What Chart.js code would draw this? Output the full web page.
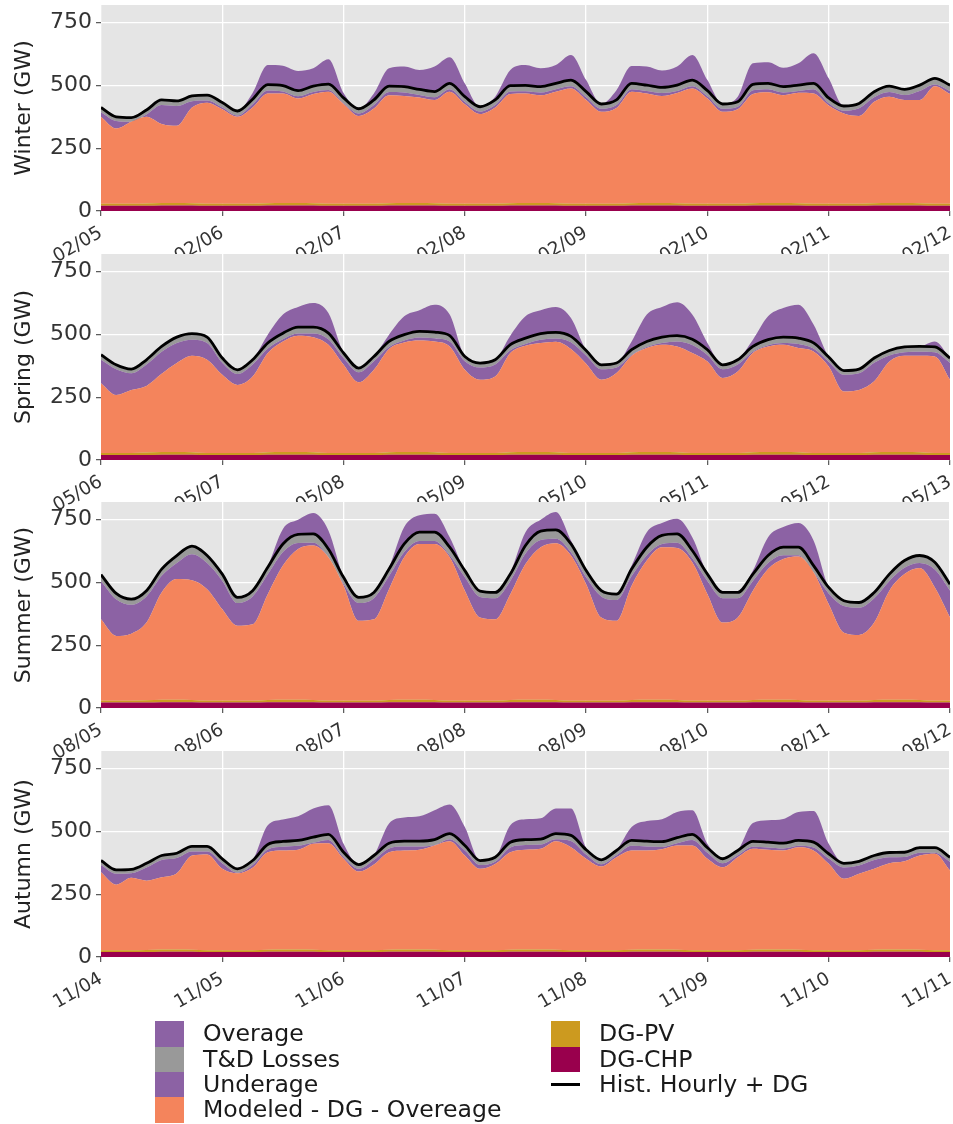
<!DOCTYPE html>
<html><head><meta charset="utf-8">
<script src="https://cdn.jsdelivr.net/npm/chart.js@4.4.1/dist/chart.umd.min.js"></script>
<style>
html,body{margin:0;padding:0;background:#fff;width:953px;height:1124px;overflow:hidden;}
canvas{position:absolute;left:0;}
#legend{position:absolute;left:0;top:0;width:953px;height:1124px;font-family:'DejaVu Sans';font-size:23.6px;color:#1a1a1a;pointer-events:none;z-index:10;}
.item{position:absolute;height:25px;line-height:25px;white-space:nowrap;}
.sw{position:absolute;left:0;top:0;width:29px;height:25.5px;}
.ln{position:absolute;left:0;top:11px;width:29px;height:2.5px;background:#000;}
.tx{position:absolute;left:48px;top:0;}
</style></head><body>
<canvas id="c0" width="953" height="300"></canvas>
<canvas id="c1" width="953" height="300"></canvas>
<canvas id="c2" width="953" height="300"></canvas>
<canvas id="c3" width="953" height="300"></canvas>
<div id="legend"></div>
<script>
// ---------- DATA ----------
const hours = [0,3,6,9,12,15,18,21,24,27,30,33,36,39,42,45,48,51,54,57,60,63,66,69,72,75,78,81,84,87,90,93,96,99,102,105,108,111,114,117,120,123,126,129,132,135,138,141,144,147,150,153,156,159,162,165,168];
const dayTicks = [0,24,48,72,96,120,144,168];
const yTicks = [0,250,500,750];

const winterDates = ['02/05','02/06','02/07','02/08','02/09','02/10','02/11','02/12'];
const springDates = ['05/06','05/07','05/08','05/09','05/10','05/11','05/12','05/13'];
const summerDates = ['08/05','08/06','08/07','08/08','08/09','08/10','08/11','08/12'];
const autumnDates = ['11/04','11/05','11/06','11/07','11/08','11/09','11/10','11/11'];

// Hist. Hourly + DG (black line)
const winterHist = [412,375,372,402,442,438,458,461,432,398,445,503,499,479,497,505,450,407,442,497,495,484,475,508,455,415,442,499,500,495,508,521,475,426,442,508,501,492,501,521,479,426,435,504,508,495,501,508,450,418,428,475,497,484,501,528,501];
const springHist = [419,379,362,399,452,489,503,489,406,359,399,466,505,529,529,505,426,366,412,472,499,512,509,495,412,386,399,459,485,503,508,492,436,379,386,439,472,489,495,481,439,379,399,452,479,489,485,466,410,356,362,406,436,450,452,450,406];
const summerHist = [531,456,433,467,553,607,644,607,533,440,467,560,653,691,693,633,520,440,460,553,653,700,700,640,547,465,460,533,647,704,709,653,547,467,453,553,640,687,693,627,533,460,460,533,607,640,640,567,480,427,420,460,533,587,607,580,493];
const autumnHist = [384,347,349,373,404,413,440,440,391,351,384,448,460,464,477,488,417,368,404,453,461,461,467,491,444,384,397,457,467,469,491,484,427,387,424,464,461,459,475,488,435,391,424,460,457,453,464,457,411,373,381,404,416,417,435,435,397];

// top of "Modeled - DG - Overeage" (orange) area
const winterModeled = [375,328,355,375,346,339,412,431,405,375,412,468,468,448,466,475,426,378,408,461,458,452,442,475,425,386,412,466,468,461,475,488,442,395,410,475,468,458,470,488,448,395,405,466,473,461,471,468,420,388,378,435,455,442,442,497,466];
const springModeled = [306,259,279,295,343,386,415,399,339,299,332,426,472,495,489,459,379,309,359,442,468,476,472,452,359,319,332,426,455,466,471,442,383,319,346,415,446,459,452,426,392,326,352,426,452,459,446,432,372,273,279,313,392,415,415,412,319];
const summerModeled = [353,287,296,340,460,513,509,473,393,327,333,453,567,633,647,600,487,347,353,473,600,653,653,600,467,360,353,453,573,640,656,607,493,360,347,487,587,640,637,580,453,340,360,467,553,593,603,540,413,300,291,340,467,533,557,480,360];
const autumnModeled = [337,288,315,304,317,333,404,408,351,333,355,417,424,427,451,453,391,340,368,417,424,427,444,461,404,351,370,417,427,431,461,437,391,360,397,424,424,429,444,444,391,357,397,431,427,424,437,424,371,311,331,351,373,381,404,411,344];

// top of Overage (purple above the black line)
const winterOverTop = [412,375,372,402,442,438,458,461,432,398,470,581,578,557,568,604,470,407,468,568,575,561,575,612,508,415,455,561,581,568,581,621,521,426,481,577,575,559,575,621,521,426,455,588,592,570,588,628,528,418,428,475,497,484,501,528,501];
const springOverTop = [419,379,362,399,452,489,503,489,406,359,399,499,579,609,625,585,426,366,412,499,572,596,618,579,412,386,399,495,572,596,609,565,436,379,386,472,579,609,628,579,466,379,399,479,572,605,618,539,410,356,362,406,436,450,452,472,406];
const summerOverTop = [531,456,433,467,553,607,644,607,533,440,467,565,713,749,776,707,520,440,460,560,720,767,773,680,547,465,460,540,700,749,780,667,547,467,453,567,700,736,753,680,533,460,460,547,680,720,736,667,480,427,420,460,533,587,607,580,493];
const autumnOverTop = [384,347,349,373,404,413,440,440,391,351,384,524,547,560,591,604,451,368,404,531,555,560,584,607,517,384,397,524,548,552,591,591,435,387,424,517,541,548,577,584,451,391,424,533,544,549,577,581,451,373,381,404,416,417,435,435,397];

// T&D losses (thickness of grey band)
const winterTD = [19,17,17,18,20,20,21,21,20,18,20,23,23,22,23,23,21,19,20,23,23,22,22,23,21,19,20,23,23,23,23,24,22,19,20,23,23,22,23,24,22,19,20,23,23,23,23,23,21,19,19,22,23,22,23,24,23];
const springTD = [20,18,17,19,21,23,24,23,19,17,19,22,24,25,25,24,20,17,19,22,23,24,24,23,19,18,19,22,23,24,24,23,20,18,18,21,22,23,23,23,21,18,19,21,22,23,23,22,19,17,17,19,20,21,21,21,19];
const summerTD = [26,23,22,23,27,30,32,30,27,22,23,28,32,34,35,32,26,22,23,28,32,35,35,32,27,23,23,27,32,35,35,33,27,23,23,28,32,34,35,31,27,23,23,27,30,32,32,28,24,21,21,23,27,29,30,29,25];
const autumnTD = [18,16,16,17,18,19,20,20,18,16,18,20,21,21,22,22,19,17,18,21,21,21,21,22,20,18,18,21,21,21,22,22,19,18,19,21,21,21,22,22,20,18,19,21,21,21,21,21,19,17,17,18,19,19,20,20,18];

// DG-CHP and DG-PV
const winterChp = [21,21,21,21,22,22,22,21,21,21,21,22,22,22,22,21,21,21,21,22,22,22,22,21,21,21,21,22,22,22,22,21,21,21,21,22,22,22,22,21,21,21,21,22,22,22,22,21,21,21,21,22,22,22,22,21,21];
const winterPv  = [8,8,8,9,10,10,9,8,8,8,8,9,10,10,9,8,8,8,8,9,10,10,9,8,8,8,8,9,10,10,9,8,8,8,8,9,10,10,9,8,8,8,8,9,10,10,9,8,8,8,8,9,10,10,9,8,8];
const springChp = [20,20,20,20,21,21,21,20,20,20,20,21,21,21,21,20,20,20,20,21,21,21,21,20,20,20,20,21,21,21,21,20,20,20,20,21,21,21,21,20,20,20,20,21,21,21,21,20,20,20,20,21,21,21,21,20,20];
const springPv  = [8,8,8,10,11,11,10,8,8,8,8,10,11,11,10,8,8,8,8,10,11,11,10,8,8,8,8,10,11,11,10,8,8,8,8,10,11,11,10,8,8,8,8,10,11,11,10,8,8,8,8,10,11,11,10,8,8];
const summerChp = [22,22,22,22,23,23,23,22,22,22,22,23,23,23,23,22,22,22,22,23,23,23,23,22,22,22,22,23,23,23,23,22,22,22,22,23,23,23,23,22,22,22,22,23,23,23,23,22,22,22,22,23,23,23,23,22,22];
const summerPv  = [7,7,7,9,10,10,9,7,7,7,7,9,10,10,9,7,7,7,7,9,10,10,9,7,7,7,7,9,10,10,9,7,7,7,7,9,10,10,9,7,7,7,7,9,10,10,9,7,7,7,7,9,10,10,9,7,7];
const autumnChp = [20,20,20,20,21,21,21,20,20,20,20,21,21,21,21,20,20,20,20,21,21,21,21,20,20,20,20,21,21,21,21,20,20,20,20,21,21,21,21,20,20,20,20,21,21,21,21,20,20,20,20,21,21,21,21,20,20];
const autumnPv  = [7,7,7,8,9,9,8,7,7,7,7,8,9,9,8,7,7,7,7,8,9,9,8,7,7,7,7,8,9,9,8,7,7,7,7,8,9,9,8,7,7,7,7,8,9,9,8,7,7,7,7,8,9,9,8,7,7];

const legendLabels = ['Overage','T&D Losses','Underage','Modeled - DG - Overeage','DG-PV','DG-CHP','Hist. Hourly + DG'];

// ---------- STYLE ----------
const COL = {over:'#8C62A4', td:'#999999', under:'#8C62A4', model:'#F4845C', pv:'#CC9A1F', chp:'#99004D', hist:'#000000'};
Chart.defaults.font.family = "'DejaVu Sans'";

const panels = [
  {id:'c0', title:'Winter (GW)', dates:winterDates, hist:winterHist, modeled:winterModeled, over:winterOverTop, td:winterTD, chp:winterChp, pv:winterPv, top:5},
  {id:'c1', title:'Spring (GW)', dates:springDates, hist:springHist, modeled:springModeled, over:springOverTop, td:springTD, chp:springChp, pv:springPv, top:254},
  {id:'c2', title:'Summer (GW)', dates:summerDates, hist:summerHist, modeled:summerModeled, over:summerOverTop, td:summerTD, chp:summerChp, pv:summerPv, top:502},
  {id:'c3', title:'Autumn (GW)', dates:autumnDates, hist:autumnHist, modeled:autumnModeled, over:autumnOverTop, td:autumnTD, chp:autumnChp, pv:autumnPv, top:751}
];
const PLOT = {left:101, right:950, height:206, pad:5, canvasH:300, xAxisH:80};

const bgPlugin = {
  id:'bg',
  beforeDraw(c){
    const a=c.chartArea, ctx=c.ctx;
    ctx.save(); ctx.fillStyle='#E5E5E5';
    ctx.fillRect(a.left,a.top,a.right-a.left,a.bottom-a.top);
    ctx.restore();
  }
};

function pts(arr){ return hours.map((h,i)=>({x:h,y:arr[i]})); }

function area(label, data, color, fill){
  return {label, data:pts(data), backgroundColor:color, borderColor:'rgba(0,0,0,0)', borderWidth:0,
    pointRadius:0, fill, cubicInterpolationMode:'monotone'};
}
function zeroPad(s){ s.paddingTop=0; s.paddingBottom=0; s.paddingLeft=0; s.paddingRight=0; }

function build(p){
  const pvTop = p.chp.map((v,i)=>v+p.pv[i]);
  const gTop = p.hist.map((v,i)=>Math.max(v-p.td[i], p.modeled[i]));
  const cv = document.getElementById(p.id);
  cv.style.top = (p.top-PLOT.pad)+'px';
  const datasets = [
    {label:legendLabels[6], data:pts(p.hist), borderColor:COL.hist, borderWidth:2.8, pointRadius:0, fill:false, cubicInterpolationMode:'monotone'},
    area(legendLabels[5], p.chp, COL.chp, 'origin'),
    area(legendLabels[4], pvTop, COL.pv, 1),
    area(legendLabels[3], p.modeled, COL.model, 2),
    area(legendLabels[2], gTop, COL.under, 3),
    area(legendLabels[1], p.hist, COL.td, 4),
    area(legendLabels[0], p.over, COL.over, 5)
  ];
  const bottomPad = PLOT.canvasH - PLOT.pad - PLOT.height - PLOT.xAxisH;
  const chart = new Chart(cv, {
    type:'line',
    data:{datasets},
    plugins:[bgPlugin],
    options:{
      responsive:false, animation:false, maintainAspectRatio:false,
      layout:{padding:{left:0,right:953-PLOT.right,top:PLOT.pad,bottom:bottomPad}},
      plugins:{legend:{display:false}, tooltip:{enabled:false}},
      scales:{
        x:{type:'linear', min:0, max:168,
          afterBuildTicks(s){ s.ticks = dayTicks.map(v=>({value:v})); },
          afterFit(s){ s.height = PLOT.xAxisH; zeroPad(s); },
          grid:{color:'#FFFFFF', lineWidth:1.3, drawTicks:true, tickLength:5, tickColor:'#555555', tickWidth:1.2},
          border:{display:false},
          ticks:{autoSkip:false, maxRotation:30, minRotation:30, padding:6, color:'#333333', font:{size:18.5},
            callback(v){ const k = dayTicks.indexOf(v); return k>=0 ? p.dates[k] : ''; }}
        },
        y:{min:0, max:820,
          afterBuildTicks(s){ s.ticks = yTicks.map(v=>({value:v})); },
          afterFit(s){ s.width = PLOT.left; zeroPad(s); },
          grid:{color:'#FFFFFF', lineWidth:1.3, drawTicks:true, tickLength:5, tickColor:'#555555', tickWidth:1.2},
          border:{display:false},
          ticks:{padding:4, color:'#333333', font:{size:22}},
          title:{display:true, text:p.title, color:'#222222', font:{size:22}, padding:{top:11,bottom:0}}
        }
      }
    }
  });
  const target = {left:PLOT.left, right:PLOT.right, top:PLOT.pad, bottom:PLOT.pad+PLOT.height};
  for(let k=0;k<4;k++){
    const a=chart.chartArea, pd=chart.config.options.layout.padding;
    const dl=target.left-a.left, dr=a.right-target.right, dt=target.top-a.top, db=a.bottom-target.bottom;
    if(Math.abs(dl)<0.3&&Math.abs(dr)<0.3&&Math.abs(dt)<0.3&&Math.abs(db)<0.3) break;
    pd.left+=dl; pd.right+=dr; pd.top+=dt; pd.bottom+=db;
    chart.update('none');
  }
  return chart;
}
panels.forEach(build);

// ---------- LEGEND ----------
const legendItems = [
  {label:legendLabels[0], color:COL.over, x:155, y:1021},
  {label:legendLabels[1], color:COL.td, x:155, y:1046.5},
  {label:legendLabels[2], color:COL.under, x:155, y:1072},
  {label:legendLabels[3], color:COL.model, x:155, y:1097},
  {label:legendLabels[4], color:COL.pv, x:551, y:1021},
  {label:legendLabels[5], color:COL.chp, x:551, y:1046.5},
  {label:legendLabels[6], color:null, x:551, y:1072}
];
const lg = document.getElementById('legend');
legendItems.forEach(it=>{
  const d=document.createElement('div'); d.className='item';
  d.style.left=it.x+'px'; d.style.top=it.y+'px';
  const s=document.createElement('div');
  if(it.color){ s.className='sw'; s.style.background=it.color; } else { s.className='ln'; }
  const t=document.createElement('div'); t.className='tx'; t.textContent=it.label;
  d.appendChild(s); d.appendChild(t); lg.appendChild(d);
});
</script>
</body></html>
